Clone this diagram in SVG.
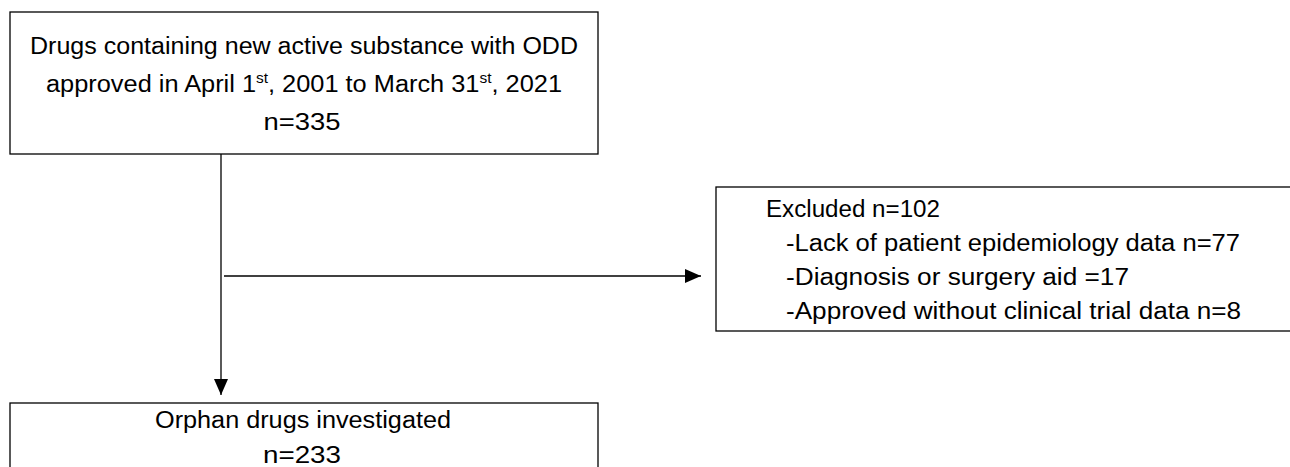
<svg xmlns="http://www.w3.org/2000/svg" width="1290" height="467" viewBox="0 0 1290 467">
<style>
.box{fill:#fff;stroke:#000;stroke-width:1.3}
.t{font-family:"Liberation Sans",Arial,sans-serif;font-size:23px;fill:#000}
.c{text-anchor:middle}
.ln{stroke:#000;stroke-width:1.3;fill:none}
</style>
<defs>
<marker id="ah2" markerWidth="16" markerHeight="14" refX="16" refY="7" orient="auto" markerUnits="userSpaceOnUse" viewBox="0 0 16 14">
<path d="M0,0 L16,7 L0,14 Z" fill="#000"/>
</marker>
</defs>
<g id="connectors">
<path class="ln" d="M221,154 V395" marker-end="url(#ah2)"/>
<path class="ln" d="M224,276 H701" marker-end="url(#ah2)"/>
</g>
<g id="node-top">
<rect class="box" x="10" y="12" width="588" height="142"/>
<text class="t c" x="304" y="54" textLength="548" lengthAdjust="spacingAndGlyphs">Drugs containing new active substance with ODD</text>
<text class="t c" x="304" y="92" textLength="516" lengthAdjust="spacingAndGlyphs">approved in April 1<tspan font-size="14" dy="-9">st</tspan><tspan dy="9">, 2001 to March 31</tspan><tspan font-size="14" dy="-9">st</tspan><tspan dy="9">, 2021</tspan></text>
<text class="t c" x="302" y="130" textLength="77" lengthAdjust="spacingAndGlyphs">n=335</text>
</g>
<g id="node-excluded">
<rect class="box" x="716" y="187" width="590" height="144"/>
<text class="t" x="766" y="217" textLength="174" lengthAdjust="spacingAndGlyphs">Excluded n=102</text>
<text class="t" x="786" y="251" textLength="454" lengthAdjust="spacingAndGlyphs">-Lack of patient epidemiology data n=77</text>
<text class="t" x="786" y="285" textLength="343" lengthAdjust="spacingAndGlyphs">-Diagnosis or surgery aid =17</text>
<text class="t" x="786" y="319" textLength="455" lengthAdjust="spacingAndGlyphs">-Approved without clinical trial data n=8</text>
</g>
<g id="node-bottom">
<rect class="box" x="10" y="403" width="588" height="80"/>
<text class="t c" x="303" y="428" textLength="296" lengthAdjust="spacingAndGlyphs">Orphan drugs investigated</text>
<text class="t c" x="302" y="463" textLength="78" lengthAdjust="spacingAndGlyphs">n=233</text>
</g>
</svg>
